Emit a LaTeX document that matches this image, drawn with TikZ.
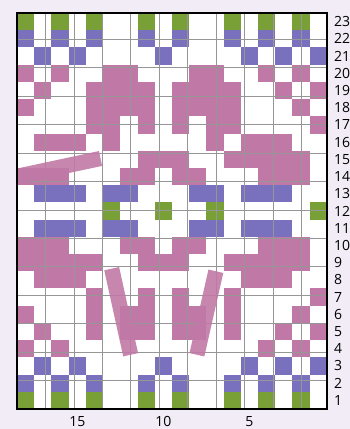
\documentclass[tikz,border=0pt]{standalone}
\usepackage{fontspec}
\setmainfont{Open Sans}
\usepackage{xcolor}
\definecolor{chpink}{RGB}{192,121,166}
\definecolor{chpurple}{RGB}{122,113,190}
\definecolor{chgreen}{RGB}{121,160,55}
\definecolor{chbg}{RGB}{241,236,245}
\definecolor{chgrid}{RGB}{150,150,150}

\begin{document}
\begin{tikzpicture}[x=17.22pt, y=17.22pt, font=\fontsize{14}{14}\selectfont,
        strip/.style={chpink, line width=15.2pt, opacity=0.9},
        num/.style={inner sep=0pt}]
      \fill[chbg] (-0.987,-1.161) rectangle (19.338,23.755);
      \useasboundingbox (-0.987,-1.161) rectangle (19.338,23.755);
      \fill[white] (0,0) rectangle (18,23);
      % coloured stitches, columns counted from the left
      \foreach \r/\clr/\cols in {
          23/chgreen/{0,2,4,7,9,12,14,16}, 22/chpurple/{0,2,4,7,9,12,14,16},
          21/chpurple/{1,3,8,13,15,17}, 20/chpink/{0,2,5,6,10,11,14,16},
          19/chpink/{1,4,5,6,7,9,10,11,12,15,17}, 18/chpink/{0,4,5,6,7,9,10,11,12,16},
          17/chpink/{4,5,7,9,11,12,17}, 16/chpink/{1,2,3,5,11,13,14,15},
          15/chpink/{7,8,9,12,13,14,15,16}, 14/chpink/{0,1,2,6,7,9,10,14,15,16},
          13/chpurple/{1,2,3,5,6,10,11,13,14,15}, 12/chgreen/{5,8,11,17},
          11/chpurple/{1,2,3,5,6,10,11,13,14,15}, 10/chpink/{0,1,2,6,7,9,10,14,15,16},
          9/chpink/{0,1,2,3,4,7,8,9,12,13,14,15,16}, 8/chpink/{1,2,3,13,14,15},
          7/chpink/{4,7,9,12,17}, 6/chpink/{0,4,6,7,9,10,12,16},
          5/chpink/{1,4,6,7,9,10,12,15,17}, 4/chpink/{0,2,14,16},
          3/chpurple/{1,3,8,13,15,17}, 2/chpurple/{0,2,4,7,9,12,14,16},
          1/chgreen/{0,2,4,7,9,12,14,16}}
        {\foreach \c in \cols {\fill[\clr] (\c,\r-1) rectangle ++(1,1);}}
      \draw[chgrid, line width=0.7pt] (0,0) grid (18,23);
      % slanted strips
      \begin{scope}
        \clip (0,0) rectangle (18,23);
        \draw[strip] (-0.3,13.45) -- (4.85,14.55);
      \end{scope}
      \draw[strip] (5.5,8.15) -- (6.6,3.15);
      \draw[strip] (11.55,8.0) -- (10.45,3.15);
      \draw[line width=2.2pt] (0,0) rectangle (18,23);
      \foreach \r in {1,...,23}
        \node[num, anchor=west] (row\r) at (18.4,\r-0.5) {\r};
      \foreach \n in {15,10,5}
        \node[num] (col\n) at (18.5-\n,-0.72) {\n};
    \end{tikzpicture}
\end{document}
